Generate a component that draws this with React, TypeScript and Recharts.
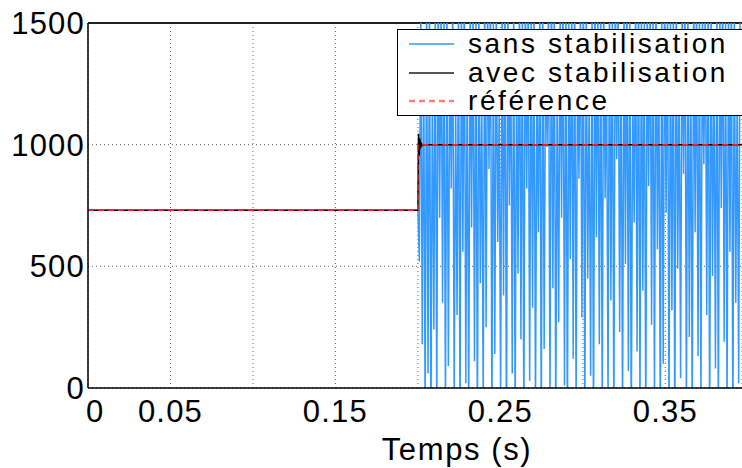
import { CartesianGrid, Legend, Line, LineChart, ReferenceLine, XAxis, YAxis } from 'recharts';

// time axis (s) and tick labels
const X_TICKS = [0, 0.05, 0.1, 0.15, 0.2, 0.25, 0.3, 0.35];
const X_TICK_LABELS = ['0', '0.05', '', '0.15', '', '0.25', '', '0.35'];
const Y_TICKS = [0, 500, 1000, 1500];
const X_MAX = 0.3965;

// référence
const refT = [0, 0.2, 0.2, X_MAX];
const refV = [730, 730, 1000, 1000];

// avec stabilisation
const avecT = [0, 0.2, 0.2004, 0.2008, 0.2012, 0.2016, 0.202, 0.2026, 0.2035, X_MAX];
const avecV = [730, 730, 1045, 955, 1025, 985, 1008, 996, 1000, 1000];

// sans stabilisation : flat before the step, then the oscillation
const sansStartT = [0, 0.2];
const sansStartV = [730, 730];
const SANS_DT = 0.00088;
const sansV = [
  520, 1600, 180, 1400, -150, 1600, 60, 1650, -200, 1300, 240, 1600, -100, 1700, 700, 1600, 350, 1550, -120, 1600,
  90, 1450, 820, 1600, -60, 1200, 300, 1650, -180, 1600, 560, 1700, 20, 1380, -140, 1600, 660, 1600, 110, 1550,
  -200, 1600, 430, 1250, -90, 1700, 250, 1600, 900, 1650, -160, 1500, 140, 1600, 600, 1150, -40, 1600, 380, 1700,
  -220, 1600, 750, 1450, 60, 1600, -130, 1350, 470, 1650, 200, 1600, -180, 1700, 820, 1600, 30, 1550, 330, 1600,
  -100, 1250, 640, 1600, -200, 1650, 160, 1450, 990, 1600, -70, 1700, 410, 1600, -150, 1300, 270, 1600, 700, 1650,
  10, 1600, -190, 1500, 530, 1600, 120, 1700, -80, 1400, 860, 1600, 290, 1650, -170, 1600, 450, 1200, 50, 1600,
  -210, 1700, 620, 1600, 180, 1550, -110, 1600, 780, 1350, -50, 1650, 360, 1600, -190, 1700, 940, 1600, 230, 1450,
  -140, 1600, 510, 1650, 70, 1600, -200, 1250, 680, 1600, 150, 1700, -90, 1600, 400, 1500, -160, 1600, 830, 1650,
  260, 1600, -60, 1700, 570, 1400, -180, 1600, 100, 1650, 720, 1600, -130, 1550, 320, 1600, -210, 1700, 490, 1300,
  40, 1600, 880, 1650, -100, 1600, 210, 1450, -170, 1700, 640, 1600, 130, 1600, -60, 1550, 920, 1600, 300, 1700,
  -190, 1600, 460, 1350, 80, 1650, -150, 1600, 740, 1700, 190, 1500, -80, 1600, 560, 1650, -200, 1600, 350, 1250,
  20, 1700,
];

const FONT = '"Liberation Sans", Arial, Helvetica, sans-serif';
const BLUE = '#3399ff';

const refData = refT.map((t, i) => ({ t, v: refV[i] }));
const avecData = avecT.map((t, i) => ({ t, v: avecV[i] }));
const sansData = [
  ...sansStartT.map((t, i) => ({ t, v: sansStartV[i] })),
  ...sansV.map((v, i) => ({ t: 0.2 + (i + 1) * SANS_DT, v })),
];

const LEGEND_ITEMS = [
  { name: 'sans stabilisation', color: BLUE, dash: undefined, width: 1.5 },
  { name: 'avec stabilisation', color: '#555', dash: undefined, width: 2 },
  { name: 'référence', color: '#ff7f7f', dash: '6 4', width: 2.5 },
];

function XTick({ x, y, payload }: any) {
  const idx = X_TICKS.indexOf(payload.value);
  const label = X_TICK_LABELS[idx] ?? '';
  if (!label) return null;
  return (
    <text
      x={idx === 0 ? x - 2 : x}
      y={y}
      dy={34}
      textAnchor={idx === 0 ? 'start' : 'middle'}
      fill="#000"
      style={{ fontFamily: FONT, fontSize: 31, letterSpacing: 1.2 }}
    >
      {label}
    </text>
  );
}

function YTick({ x, y, payload }: any) {
  return (
    <text
      x={x}
      y={y}
      dy="0.36em"
      textAnchor="end"
      fill="#000"
      style={{ fontFamily: FONT, fontSize: 31, letterSpacing: 1.2 }}
    >
      {payload.value}
    </text>
  );
}

function LegendBox() {
  return (
    <div
      style={{
        width: 360,
        height: 87,
        border: '1.5px solid #000',
        background: '#fff',
        fontFamily: FONT,
        fontSize: 28,
        letterSpacing: 2.6,
        color: '#000',
        boxSizing: 'border-box',
      }}
    >
      {LEGEND_ITEMS.map((it) => (
        <div key={it.name} style={{ display: 'flex', alignItems: 'center', height: 28.5 }}>
          <svg width={70} height={28} style={{ flex: 'none' }}>
            <line
              x1={11}
              x2={56}
              y1={14}
              y2={14}
              stroke={it.color}
              strokeWidth={it.width}
              strokeDasharray={it.dash}
            />
          </svg>
          <span style={{ lineHeight: '28px', whiteSpace: 'nowrap' }}>{it.name}</span>
        </div>
      ))}
    </div>
  );
}

export default function App() {
  return (
    <div
      style={{
        position: 'absolute',
        left: 0,
        top: 0,
        width: 742,
        height: 468,
        overflow: 'hidden',
        background: '#fff',
      }}
    >
      <LineChart width={742} height={468} margin={{ top: 23, right: 0, bottom: 0, left: 0 }}>
        <CartesianGrid stroke="#666" strokeDasharray="1 3" />
        <XAxis
          type="number"
          dataKey="t"
          domain={[0, X_MAX]}
          ticks={X_TICKS}
          allowDataOverflow
          height={80}
          tickLine={false}
          tickSize={0}
          tickMargin={0}
          axisLine={{ stroke: '#000', strokeWidth: 1.5 }}
          tick={<XTick />}
          label={{
            value: 'Temps (s)',
            position: 'insideBottom',
            offset: 8,
            dx: 42,
            style: { fontFamily: FONT, fontSize: 31, letterSpacing: 1.6, fill: '#000' },
          }}
        />
        <YAxis
          type="number"
          domain={[0, 1500]}
          ticks={Y_TICKS}
          allowDataOverflow
          width={88}
          tickLine={false}
          tickSize={0}
          tickMargin={3}
          axisLine={{ stroke: '#000', strokeWidth: 1.5 }}
          tick={<YTick />}
        />
        <ReferenceLine y={1500} stroke="#222" strokeWidth={2} />
        <Line
          data={sansData}
          dataKey="v"
          type="linear"
          stroke={BLUE}
          strokeWidth={1.5}
          dot={false}
          isAnimationActive={false}
        />
        <Line
          data={avecData}
          dataKey="v"
          type="linear"
          stroke="#000"
          strokeWidth={1.5}
          dot={false}
          isAnimationActive={false}
        />
        <Line
          data={refData}
          dataKey="v"
          type="linear"
          stroke="#ff2020"
          strokeWidth={1.5}
          strokeDasharray="6 4"
          dot={false}
          isAnimationActive={false}
        />
        <Legend
          layout="vertical"
          align="center"
          verticalAlign="middle"
          wrapperStyle={{ position: 'absolute', top: 29, left: 397, width: 360 }}
          content={<LegendBox />}
        />
      </LineChart>
    </div>
  );
}
